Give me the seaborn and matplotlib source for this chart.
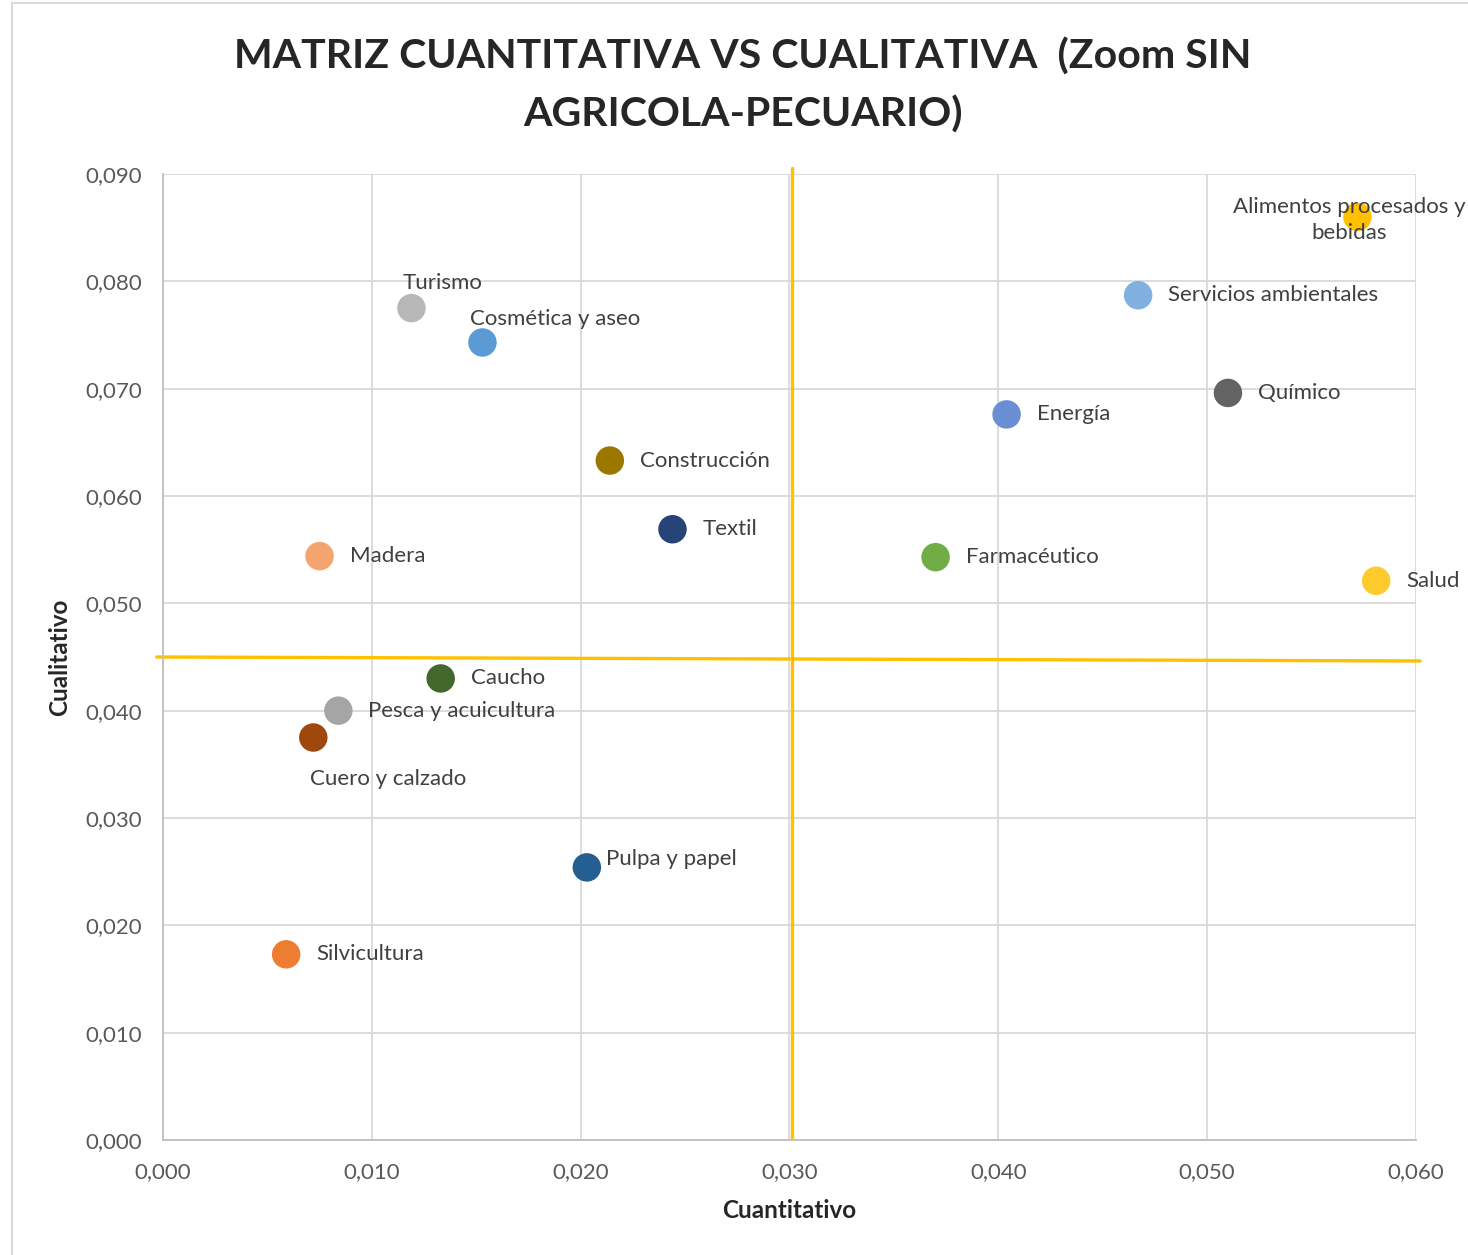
import seaborn as sns
import numpy as np
import pandas as pd
import matplotlib.pyplot as plt
from matplotlib.lines import Line2D

sns.set_style("white")
plt.rcParams['font.family'] = ['Lato', 'DejaVu Sans']

sectores = ['Alimentos procesados y\nbebidas', 'Servicios ambientales', 'Químico', 'Energía',
            'Farmacéutico', 'Salud', 'Turismo', 'Cosmética y aseo', 'Construcción', 'Textil',
            'Madera', 'Caucho', 'Pesca y acuicultura', 'Cuero y calzado', 'Pulpa y papel',
            'Silvicultura']
cuantitativo = [0.0572, 0.0467, 0.0510, 0.0404, 0.0370, 0.0581, 0.0119, 0.0153, 0.0214, 0.0244,
                0.0075, 0.0133, 0.0084, 0.0072, 0.0203, 0.0059]
cualitativo = [0.0860, 0.0787, 0.0696, 0.0676, 0.0543, 0.0521, 0.0775, 0.0743, 0.0633, 0.0569,
               0.0544, 0.0430, 0.0400, 0.0375, 0.0254, 0.0173]
colores = ['#FFC000', '#7FB0DF', '#636363', '#6A8ED3', '#70AD47', '#FFCA2C', '#B7B7B7', '#5B9BD5',
           '#9C7700', '#264478', '#F4A46E', '#43682B', '#A5A5A5', '#9E480E', '#255E91', '#ED7D31']

# quadrant lines
linea_v_x = [0.03012, 0.03012]
linea_v_y = [0.09056, 0.0002]
linea_h_x = [-0.0003, 0.0602]
linea_h_y = [0.0450, 0.04463]

# label offsets (pixels) and alignment
offsets = [(-8, -3, 'center'), (30, 0, 'left'), (30, 0, 'left'), (30, 0, 'left'),
           (30, 0, 'left'), (30, 0, 'left'), (31, 25, 'center'), (-12, 23, 'left'),
           (30, 0, 'left'), (30, 0, 'left'), (30, 0, 'left'), (30, 0, 'left'),
           (30, 0, 'left'), (-3, -41, 'left'), (19, 8, 'left'), (30, 0, 'left')]

df = pd.DataFrame({'sector': sectores, 'x': cuantitativo, 'y': cualitativo})

fig = plt.figure(figsize=(14.68, 12.55), dpi=100)
ax = fig.add_axes([0.111, 0.0916, 0.8535, 0.7698])

sns.scatterplot(data=df, x='x', y='y', hue='sector', palette=dict(zip(sectores, colores)),
                s=420, edgecolor='none', legend=False, ax=ax, zorder=3)

ax.set_xlim(0, 0.06)
ax.set_ylim(0, 0.09)
ax.set_xticks(np.arange(0, 0.0601, 0.01))
ax.set_yticks(np.arange(0, 0.0901, 0.01))
ax.set_xticklabels([f'{v:.3f}'.replace('.', ',') for v in ax.get_xticks()])
ax.set_yticklabels([f'{v:.3f}'.replace('.', ',') for v in ax.get_yticks()])
ax.tick_params(labelsize=16, colors='#595959', length=0)
ax.tick_params(axis='x', pad=16)
ax.tick_params(axis='y', pad=15)
ax.grid(True, color='#D9D9D9', linewidth=1.3)
for s in ['top', 'right']:
    ax.spines[s].set_visible(False)
for s in ['left', 'bottom']:
    ax.spines[s].set_color('#BFBFBF')
    ax.spines[s].set_linewidth(1.3)

ax.plot(linea_v_x, linea_v_y, color='#FFC000', lw=2.4, clip_on=False, zorder=2)
ax.plot(linea_h_x, linea_h_y, color='#FFC000', lw=2.4, clip_on=False, zorder=2)

for name, x, y, (dx, dy, ha) in zip(sectores, cuantitativo, cualitativo, offsets):
    ax.annotate(name, (x, y), xytext=(dx, dy), textcoords='offset pixels', ha=ha, va='center',
                fontsize=16, color='#404040', zorder=4, linespacing=1.4,
                multialignment='center', annotation_clip=False)

ax.set_xlabel('Cuantitativo', fontsize=17.5, fontweight='bold', labelpad=12)
ax.set_ylabel('Cualitativo', fontsize=17.5, fontweight='bold', labelpad=10)

fig.text(0.506, 0.932, 'MATRIZ CUANTITATIVA VS CUALITATIVA  (Zoom SIN\nAGRICOLA-PECUARIO)',
         ha='center', va='center', fontsize=29.5, fontweight='bold', linespacing=1.65)

# chart frame
fig.add_artist(Line2D([12 / 1468, 12 / 1468], [0, 1 - 3 / 1255], transform=fig.transFigure,
                      color='#D9D9D9', lw=1.5))
fig.add_artist(Line2D([12 / 1468, 1], [1 - 3 / 1255, 1 - 3 / 1255], transform=fig.transFigure,
                      color='#D9D9D9', lw=1.5))

fig.savefig('out.png', dpi=100)
